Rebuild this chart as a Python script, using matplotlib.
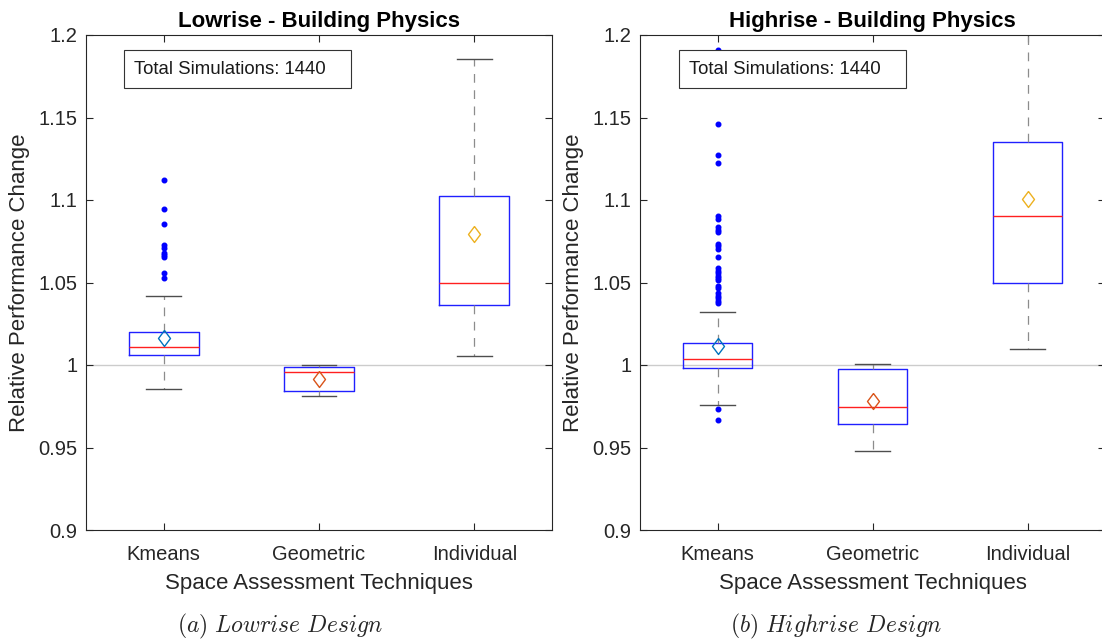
import matplotlib
matplotlib.use("Agg")
import matplotlib.pyplot as plt
from matplotlib.patches import Rectangle
import numpy as np

plt.rcParams['font.family'] = ['Liberation Sans', 'DejaVu Sans']
plt.rcParams['mathtext.fontset'] = 'cm'

categories = ["Kmeans", "Geometric", "Individual"]
yticks = [0.9, 0.95, 1.0, 1.05, 1.1, 1.15, 1.2]
ytick_labels = ["0.9", "0.95", "1", "1.05", "1.1", "1.15", "1.2"]

# Lowrise
low_q1 = [1.0059, 0.9841, 1.0363]
low_med = [1.0107, 0.9956, 1.0500]
low_q3 = [1.0201, 0.9986, 1.1026]
low_whislo = [0.9853, 0.9814, 1.0054]
low_whishi = [1.0419, 1.0002, 1.1856]
low_mean = [1.0161, 0.9915, 1.0792]
low_fliers = [
    [1.1123, 1.0945, 1.0857, 1.0726, 1.0712, 1.0679, 1.0665, 1.0653, 1.0558, 1.0528],
    [],
    [],
]

# Highrise
high_q1 = [0.9980, 0.9641, 1.0496]
high_med = [1.0034, 0.9748, 1.0901]
high_q3 = [1.0131, 0.9974, 1.1350]
high_whislo = [0.9756, 0.9476, 1.0099]
high_whishi = [1.0319, 1.0004, 1.2300]
high_mean = [1.0117, 0.9780, 1.1005]
high_fliers = [
    [1.1909, 1.1461, 1.1274, 1.1227, 1.0901, 1.0887, 1.0836, 1.0820, 1.0806,
     1.0736, 1.0721, 1.0700, 1.0655, 1.0586, 1.0571, 1.0556, 1.0541, 1.0526,
     1.0514, 1.0478, 1.0464, 1.0435, 1.0420, 1.0405, 1.0390, 1.0375,
     0.9734, 0.9667],
    [],
    [],
]

titles = ["Lowrise - Building Physics", "Highrise - Building Physics"]
captions = [r"$\mathit{(a)\ Lowrise\ Design}$", r"$\mathit{(b)\ Highrise\ Design}$"]
total_text = "Total Simulations: 1440"
mean_colors = ["#0072BD", "#D95319", "#EDB120"]

diamond = [(0, 1), (0.75, 0), (0, -1), (-0.75, 0), (0, 1)]

W, H = 1102, 641
fig = plt.figure(figsize=(W / 100, H / 100), dpi=100)

axes_px = [(86, 552), (640, 1105)]
caption_cx = [280, 836]
top_px, bot_px = 35, 530

datasets = [
    (low_q1, low_med, low_q3, low_whislo, low_whishi, low_mean, low_fliers),
    (high_q1, high_med, high_q3, high_whislo, high_whishi, high_mean, high_fliers),
]

for i, (x0, x1) in enumerate(axes_px):
    ax = fig.add_axes([x0 / W, (H - bot_px) / H, (x1 - x0) / W, (bot_px - top_px) / H])
    q1, med, q3, wlo, whi, mean, fl = datasets[i]
    stats = []
    for k in range(3):
        stats.append(dict(q1=q1[k], med=med[k], q3=q3[k], whislo=wlo[k],
                          whishi=whi[k], fliers=np.array(fl[k]), label=categories[k]))
    positions = [1, 2, 3]
    ax.axhline(1.0, color='0.8', lw=1.0, zorder=0)
    ax.bxp(stats, positions=positions, widths=0.45, capwidths=0.223,
           boxprops=dict(color='#2020FF', lw=1.0),
           medianprops=dict(color='#FF2020', lw=1.0),
           whiskerprops=dict(color='0.55', lw=0.9, linestyle=(0, (7, 6))),
           capprops=dict(color='0.3', lw=1.0),
           flierprops=dict(marker='o', markersize=3.3, markerfacecolor='#0000FF',
                           markeredgecolor='#0000FF', linestyle='none'),
           manage_ticks=False)
    for k in range(3):
        ax.plot([positions[k]], [mean[k]], linestyle='none', marker=diamond,
                markersize=11.5, markerfacecolor='none', markeredgecolor=mean_colors[k],
                markeredgewidth=1.0, zorder=5)
    ax.set_xlim(0.5, 3.5)
    ax.set_ylim(0.9, 1.2)
    ax.set_xticks(positions)
    ax.set_xticklabels(categories)
    ax.set_yticks(yticks)
    ax.set_yticklabels(ytick_labels)
    ax.tick_params(direction='in', top=True, right=True, length=5, width=0.8,
                   colors='0.15', labelsize=14.5, labelcolor='0.15')
    ax.tick_params(axis='x', pad=11)
    ax.tick_params(axis='y', pad=6)
    for s in ax.spines.values():
        s.set_color('0.15')
        s.set_linewidth(0.8)
    ax.set_title(titles[i], fontsize=16, fontweight='bold', pad=6)
    ax.set_xlabel("Space Assessment Techniques", fontsize=16, color='0.15', labelpad=6)
    ax.set_ylabel("Relative Performance Change", fontsize=16, color='0.15', labelpad=6)
    wax = x1 - x0
    hax = bot_px - top_px
    bx0 = (124 - 86) / wax if i == 0 else (679 - 640) / wax
    tx0 = (134 - 86) / wax if i == 0 else (689 - 640) / wax
    rect = Rectangle((bx0, 1 - (88 - top_px) / hax), 227 / wax, 38 / hax,
                     transform=ax.transAxes, facecolor='white', edgecolor='0.2',
                     lw=0.8, zorder=10)
    ax.add_patch(rect)
    ax.text(tx0, 1 - (69 - top_px) / hax, total_text, transform=ax.transAxes,
            fontsize=13.4, va='center', ha='left', color='0.1', zorder=11)
    fig.text(caption_cx[i] / W, 1 - 626 / H, captions[i], fontsize=17,
             ha='center', va='center', color='0.15')

fig.savefig("out.png", dpi=100)
